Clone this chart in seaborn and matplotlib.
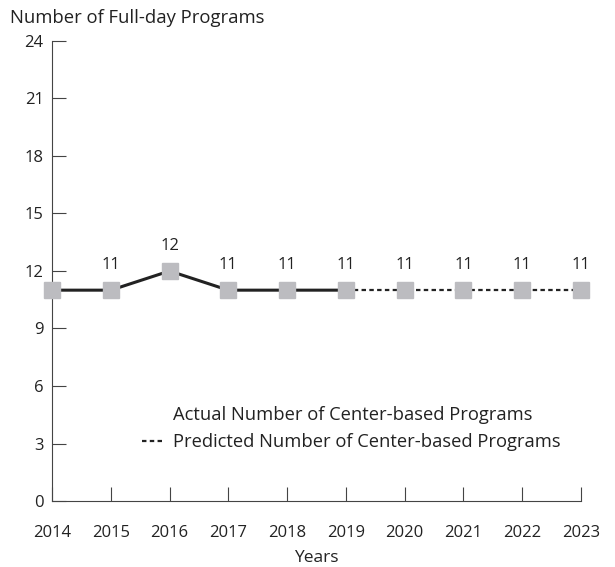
import pandas as pd
import matplotlib.pyplot as plt
import seaborn as sns
from matplotlib.lines import Line2D

years = [2014, 2015, 2016, 2017, 2018, 2019, 2020, 2021, 2022, 2023]
programs = [11, 11, 12, 11, 11, 11, 11, 11, 11, 11]
actual_years = [2014, 2015, 2016, 2017, 2018, 2019]
predicted_years = [2019, 2020, 2021, 2022, 2023]
y_ticks = [0, 3, 6, 9, 12, 15, 18, 21, 24]

df = pd.DataFrame({"Year": years, "Programs": programs})
actual = df[df["Year"].isin(actual_years)]
predicted = df[df["Year"].isin(predicted_years)]

sns.set_theme(style="white")
plt.rcParams['font.family'] = ['Open Sans', 'DejaVu Sans']

fig = plt.figure(figsize=(6.15, 5.67), dpi=100)
ax = fig.add_axes([0.0846, 0.1164, 0.8601, 0.8113])

sns.lineplot(data=actual, x="Year", y="Programs", ax=ax, color="#222222",
             linewidth=2.2, zorder=2)
sns.lineplot(data=predicted, x="Year", y="Programs", ax=ax, color="#222222",
             linewidth=1.6, linestyle=(0, (2, 1.5)), zorder=2)
# markers on top
ax.plot(df["Year"], df["Programs"], linestyle="none", marker="s",
        markersize=11, color="#bcbcc0", zorder=3, clip_on=False)

for yr, v in zip(years[1:], programs[1:]):
    ax.annotate(str(v), (yr, v), xytext=(0, 12), textcoords="offset points",
                ha="center", va="bottom", fontsize=12, color="#222222")

ax.set_xlim(2014, 2023)
ax.set_ylim(0, 24)
ax.set_xticks(years)
ax.set_yticks(y_ticks)
ax.tick_params(axis="x", bottom=True, direction="in", length=10, width=0.8,
               color="#444444", pad=17, labelsize=12, labelcolor="#222222")
ax.tick_params(axis="y", left=True, direction="in", length=10, width=0.8,
               color="#444444", pad=6, labelsize=12, labelcolor="#222222")
for s in ["top", "right"]:
    ax.spines[s].set_visible(False)
for s in ["left", "bottom"]:
    ax.spines[s].set_color("#444444")
    ax.spines[s].set_linewidth(0.8)

ax.set_xlabel("Years", fontsize=12.5, color="#222222", labelpad=7)
ax.set_ylabel("")
fig.text(0.017, 0.968, "Number of Full-day Programs", fontsize=13.3,
         color="#222222", ha="left", va="center")

handles = [Line2D([], [], color="none"),
           Line2D([], [], color="#222222", linewidth=1.6, linestyle=(0, (2, 1.5)))]
ax.legend(handles, ["Actual Number of Center-based Programs",
                    "Predicted Number of Center-based Programs"],
          loc="center left", bbox_to_anchor=(0.138, 0.157), frameon=False,
          fontsize=13.2, handlelength=1.25, handletextpad=0.45, labelspacing=0.5,
          labelcolor="#222222")

fig.savefig("out.png", dpi=100)
